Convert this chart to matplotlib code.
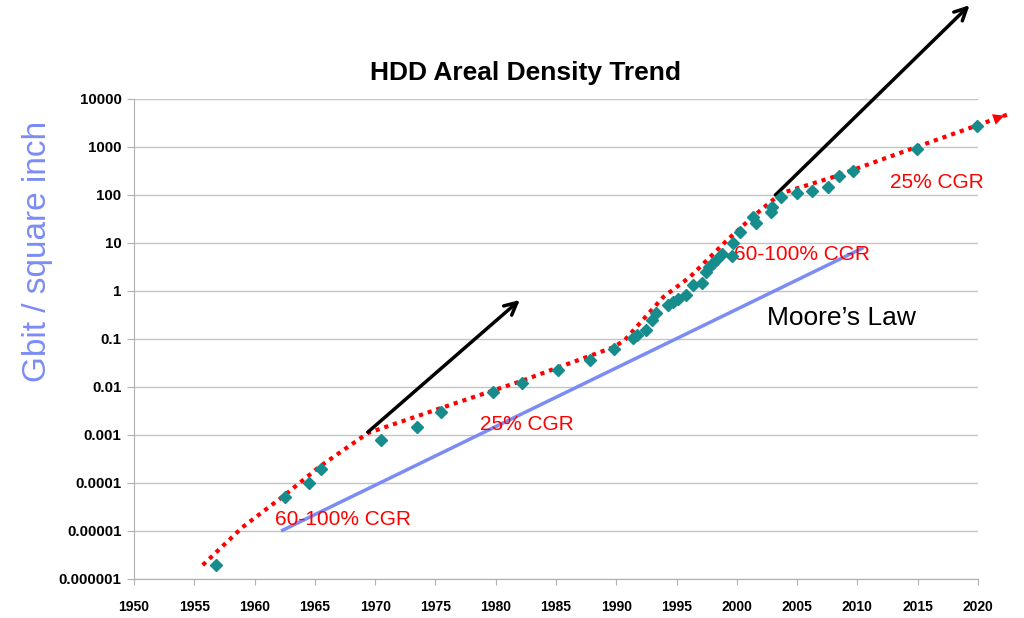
import numpy as np
import matplotlib.pyplot as plt
from matplotlib.ticker import FixedLocator, FixedFormatter

plt.rcParams['font.family'] = ['Liberation Sans', 'DejaVu Sans']

# HDD areal density data points (year, Gbit/in^2)
years = [1956.8, 1962.5, 1964.5, 1965.5, 1970.5, 1973.5, 1975.5, 1979.8, 1982.2,
         1985.2, 1987.8, 1989.8, 1991.4, 1991.7, 1992.5, 1993.0, 1993.3, 1994.3,
         1994.7, 1995.1, 1995.8, 1996.4, 1997.1, 1997.4, 1997.7, 1998.0, 1998.3,
         1998.8, 1999.6, 1999.7, 2000.3, 2001.3, 2001.6, 2002.8, 2002.9, 2003.7,
         2005.0, 2006.2, 2007.6, 2008.5, 2009.6, 2014.9, 2019.9]
density = [2e-6, 5.1e-5, 1e-4, 2e-4, 8e-4, 1.5e-3, 3e-3, 8e-3, 0.012,
           0.023, 0.036, 0.062, 0.104, 0.12, 0.155, 0.25, 0.35, 0.51,
           0.59, 0.68, 0.83, 1.33, 1.47, 2.5, 3.2, 3.8, 4.5,
           5.9, 5.4, 10, 17, 35, 26, 45, 56, 91,
           110, 120, 150, 250, 316, 910, 2750]

# red trend path (hand read)
trend_x = [1955.7, 1959.0, 1962.5, 1965.4, 1969.4, 1975.4, 1982.0, 1989.8, 1990.7,
           1993.9, 1996.1, 1999.2, 2001.3, 2003.2, 2004.0, 2008.0, 2014.9, 2022.4]
trend_y = [1.95e-6, 1.2e-5, 5.6e-5, 2.2e-4, 1.1e-3, 3.6e-3, 0.013, 0.068, 0.095,
           0.75, 1.95, 11.5, 35, 87, 115, 237, 1000, 4700]

# Moore's law line
moore_x = [1962.2, 2010.5]
moore_y = [1e-5, 8]

# black arrows (start, end)
arrows = [((1969.4, 1.15e-3), (1982.0, 0.65)),
          ((2003.2, 100), (2019.3, 9e5))]

labels = [(1961.7, 10**-4.77, '60-100% CGR'),
          (1978.7, 10**-2.79, '25% CGR'),
          (1999.8, 10**0.75, '60-100% CGR'),
          (2012.7, 10**2.27, '25% CGR')]

ytick_vals = [1e-6, 1e-5, 1e-4, 1e-3, 1e-2, 0.1, 1, 10, 100, 1000, 10000]
ytick_labels = ['0.000001', '0.00001', '0.0001', '0.001', '0.01', '0.1',
                '1', '10', '100', '1000', '10000']
xticks = list(range(1950, 2021, 5))

fig = plt.figure(figsize=(10.24, 6.18), dpi=100)
ax = fig.add_axes([134/1024, 1-579/618, (978-134)/1024, (579-99)/618])

ax.set_yscale('log')
ax.set_xlim(1950, 2020)
ax.set_ylim(1e-6, 1e4)

ax.yaxis.set_major_locator(FixedLocator(ytick_vals))
ax.yaxis.set_major_formatter(FixedFormatter(ytick_labels))
ax.yaxis.set_minor_locator(FixedLocator([]))
ax.set_xticks(xticks)
ax.grid(axis='y', color='#c4c4c4', lw=1)
ax.set_axisbelow(True)

for s in ['top', 'right']:
    ax.spines[s].set_visible(False)
for s in ['left', 'bottom']:
    ax.spines[s].set_color('#b0b0b0')

ax.tick_params(axis='y', length=5, color='#b0b0b0', pad=4, labelsize=10.8)
ax.tick_params(axis='x', length=4, color='#b0b0b0', pad=11, labelsize=10)
for t in ax.get_yticklabels():
    t.set_fontweight('bold')
for t in ax.get_xticklabels():
    t.set_fontweight('bold')

ax.plot(moore_x, moore_y, color='#7b8cf5', lw=2.5, solid_capstyle='butt')
ax.plot(trend_x, trend_y, color='red', lw=3, linestyle=(0, (1, 1.2)), clip_on=False)
ax.annotate('', xy=(trend_x[-1], trend_y[-1]), xytext=(trend_x[-2], trend_y[-2]),
            arrowprops=dict(arrowstyle='-|>', color='red', lw=0, mutation_scale=20),
            annotation_clip=False)
ax.plot(years, density, 'D', color='#178c8c', ms=6, zorder=5, clip_on=False)

for (x0, y0), (x1, y1) in arrows:
    ax.annotate('', xy=(x1, y1), xytext=(x0, y0),
                arrowprops=dict(arrowstyle='->', color='black', lw=2.5, mutation_scale=22,
                                shrinkA=0, shrinkB=0),
                annotation_clip=False)

for x, y, s in labels:
    ax.text(x, y, s, color='red', fontsize=15, va='center', ha='left')
ax.text(2002.5, 10**-0.56, 'Moore\u2019s Law', color='black', fontsize=19, va='center', ha='left')

fig.text(525/1024, 1-73/618, 'HDD Areal Density Trend', fontsize=19, fontweight='bold',
         ha='center', va='center')
fig.text(38/1024, 1-251/618, 'Gbit / square inch', fontsize=24, color='#7b8cf5',
         rotation=90, ha='center', va='center')

fig.savefig('out.png', dpi=100)
